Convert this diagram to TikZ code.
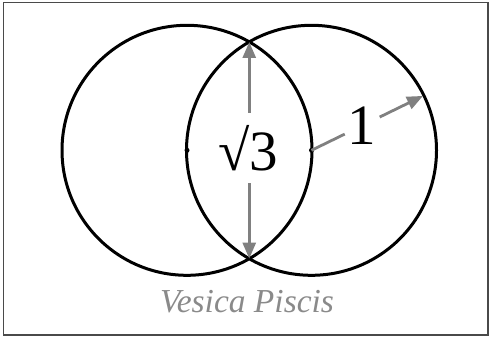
\documentclass[tikz,border=0pt]{standalone}
\usepackage{fontspec}
\setmainfont{Liberation Serif}
\usetikzlibrary{arrows.meta,calc}
\definecolor{arrowgray}{HTML}{808080}
\definecolor{framegray}{HTML}{4A4A4A}
\definecolor{titlegray}{HTML}{8A8A8A}
\tikzset{
  circ/.style={draw=black, line width=3pt},
  garrow/.style={draw=arrowgray, line width=2.8pt, -{Triangle[length=16pt,width=13pt]}},
  ctr/.style={circle, fill=black, inner sep=0pt, minimum size=5pt},
  biglabel/.style={inner sep=0pt, font=\fontsize{57}{60}\selectfont},
}
\begin{document}
\begin{tikzpicture}[x=1pt,y=1pt]
\useasboundingbox (0,0) rectangle (489,338);
\draw[framegray, line width=1.4pt] (3.5,3) rectangle (488,335.5);
\coordinate (L) at (187,187.7);
\coordinate (R) at (311.5,187.7);
\coordinate (top) at (249.25,296);
\coordinate (bot) at (249.25,79.4);
\coordinate (tip) at ($(R)+(26:124)$);
\draw[circ] (L) circle (125);
\draw[circ] (R) circle (125);
\node[ctr] (cL) at (L) {};
\node[ctr] (cR) at (R) {};
\node[biglabel, minimum height=70pt, minimum width=40pt] (s3) at (248,190) {√3};
\draw[garrow] (s3.north -| top) -- (top);
\draw[garrow] (s3.south -| bot) -- (bot);
\node[biglabel, inner xsep=3pt, minimum height=40pt] (one) at ($(R)!0.455!(tip)$) {1};
\draw[draw=arrowgray, line width=2.8pt] (cR.center) -- (one);
\draw[garrow] (one) -- (tip);
\node[font=\fontsize{33.5}{36}\selectfont\itshape, text=titlegray] (title) at (247,36) {Vesica Piscis};
\end{tikzpicture}
\end{document}
